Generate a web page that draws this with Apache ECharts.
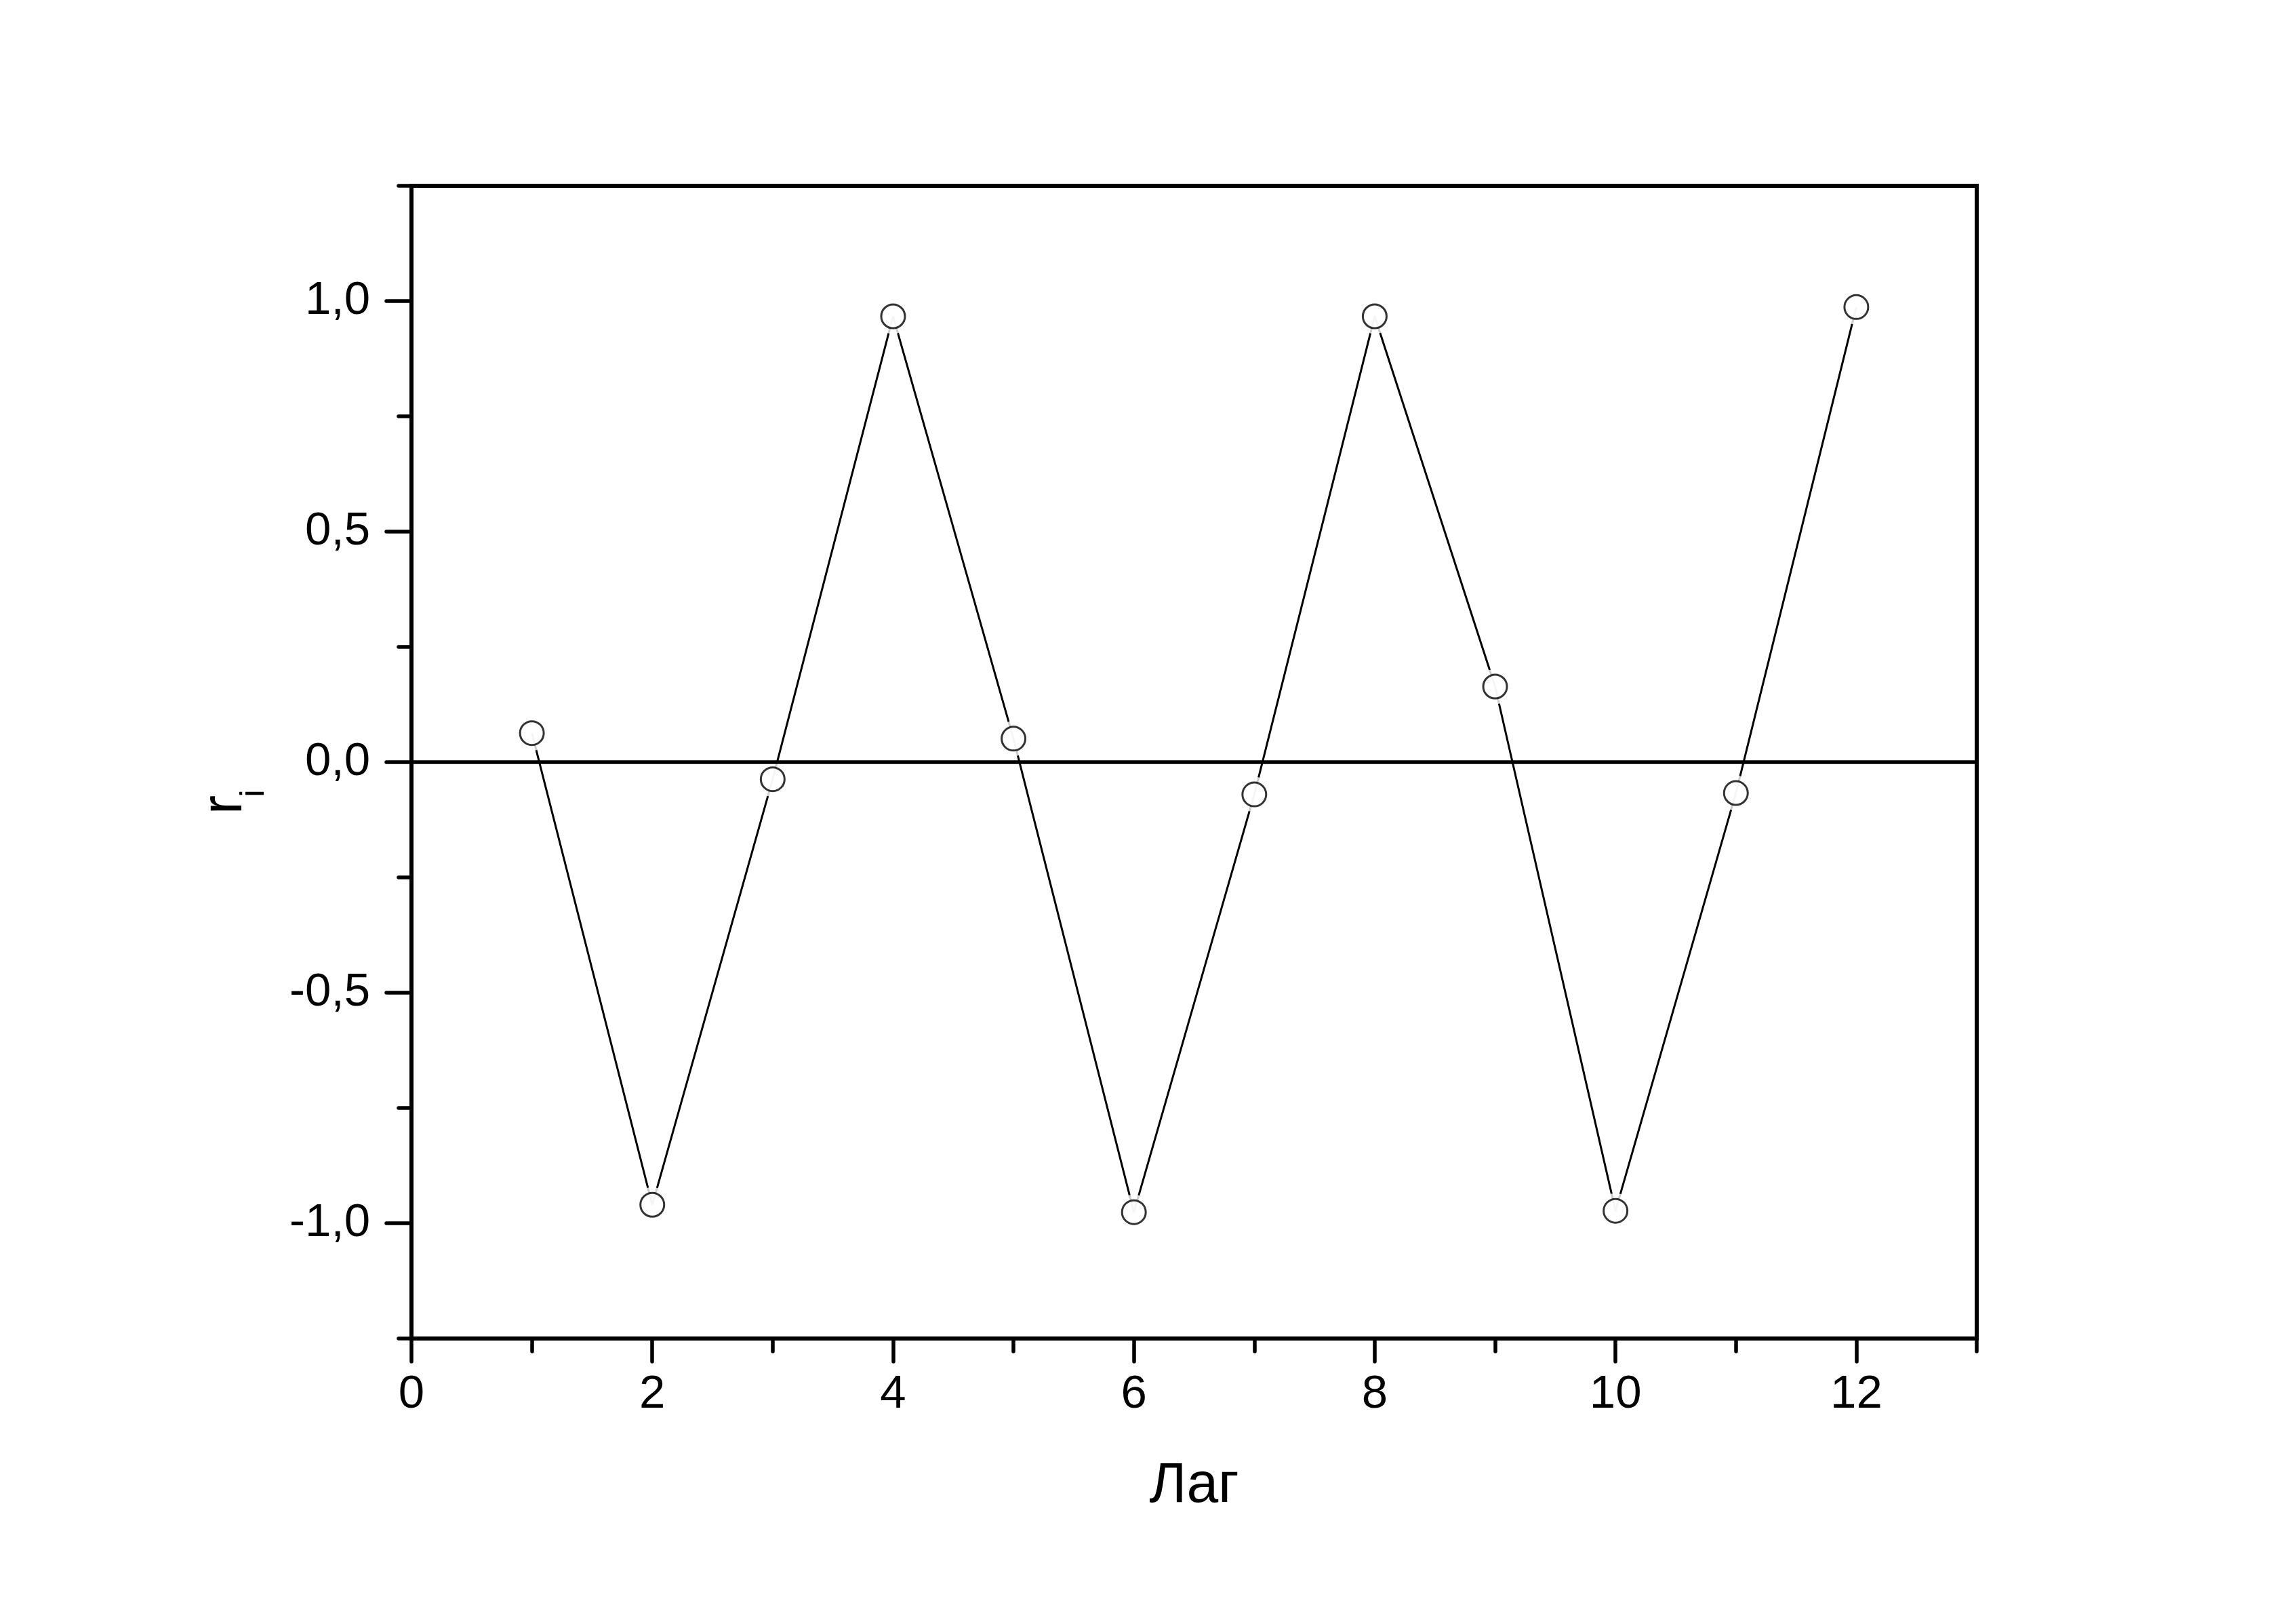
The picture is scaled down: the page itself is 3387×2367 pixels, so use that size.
<!DOCTYPE html>
<html>
<head>
<meta charset="utf-8">
<script src="https://cdn.jsdelivr.net/npm/echarts@6/dist/echarts.min.js"></script>
<style>
html,body{margin:0;padding:0;background:#fff;}
#chart{width:3387px;height:2367px;}
</style>
</head>
<body>
<div id="chart"></div>
<script>
// Data
const lags = [1, 2, 3, 4, 5, 6, 7, 8, 9, 10, 11, 12];
const ri = [0.063, -0.960, -0.037, 0.967, 0.051, -0.976, -0.070, 0.967, 0.164, -0.973, -0.067, 0.987];
const xMajorTicks = [0, 2, 4, 6, 8, 10, 12];
const xMinorTicks = [1, 3, 5, 7, 9, 11, 13];
const yMajorTicks = [-1.0, -0.5, 0.0, 0.5, 1.0];
const yMinorTicks = [-1.25, -0.75, -0.25, 0.25, 0.75, 1.25];
const xTitle = 'Лаг';
const yTitleMain = 'r';
const yTitleSub = 'i';

const points = lags.map((x, i) => [x, ri[i]]);
const FONT = 'Liberation Sans, Arial, sans-serif';

const chart = echarts.init(document.getElementById('chart'), null, {renderer: 'canvas'});
chart.setOption({
  backgroundColor: '#fff',
  animation: false,
  grid: {left: 607, right: 471, top: 274, bottom: 393, show: true, borderColor: '#000', borderWidth: 6, backgroundColor: 'transparent'},
  xAxis: [
    {
      type: 'value', min: 0, max: 13, position: 'bottom',
      axisLine: {show: true, onZero: false, lineStyle: {color: '#000', width: 6, cap: 'round'}},
      axisTick: {show: true, customValues: xMajorTicks, length: 34, lineStyle: {color: '#000', width: 5.5, cap: 'round'}},
      axisLabel: {show: true, customValues: xMajorTicks, margin: 48, color: '#000', fontSize: 69, fontFamily: FONT},
      splitLine: {show: false},
      name: xTitle, nameLocation: 'middle', nameGap: 176,
      nameTextStyle: {color: '#000', fontSize: 84, fontFamily: FONT}
    },
    {
      type: 'value', min: 0, max: 13, position: 'bottom', gridIndex: 0,
      axisLine: {show: false, onZero: false},
      axisTick: {show: true, customValues: xMinorTicks, length: 19, lineStyle: {color: '#000', width: 5.5, cap: 'round'}},
      axisLabel: {show: false},
      splitLine: {show: false}
    }
  ],
  yAxis: [
    {
      type: 'value', min: -1.25, max: 1.25, position: 'left',
      axisLine: {show: true, onZero: false, lineStyle: {color: '#000', width: 6, cap: 'round'}},
      axisTick: {show: true, customValues: yMajorTicks, length: 37, lineStyle: {color: '#000', width: 5.5, cap: 'round'}},
      axisLabel: {show: true, customValues: yMajorTicks, margin: 61, color: '#000', fontSize: 69, fontFamily: FONT,
        formatter: v => v.toFixed(1).replace('.', ',')},
      splitLine: {show: false}
    },
    {
      type: 'value', min: -1.25, max: 1.25, position: 'left',
      axisLine: {show: false, onZero: false},
      axisTick: {show: true, customValues: yMinorTicks, length: 19, lineStyle: {color: '#000', width: 5.5, cap: 'round'}},
      axisLabel: {show: false},
      splitLine: {show: false}
    }
  ],
  graphic: [
    {type: 'text', x: 333, y: 1187, rotation: Math.PI / 2, z: 100,
      style: {text: yTitleMain, font: '85px ' + FONT, fill: '#000', align: 'center', verticalAlign: 'middle'}},
    {type: 'text', x: 375, y: 1170, rotation: Math.PI / 2, z: 100,
      style: {text: yTitleSub, font: '50px ' + FONT, fill: '#000', align: 'center', verticalAlign: 'middle'}}
  ],
  series: [
    {
      type: 'line', data: points, showSymbol: false, z: 2,
      lineStyle: {color: '#000', width: 3}
    },
    {
      type: 'scatter', data: points, z: 3, symbol: 'circle', symbolSize: 52,
      itemStyle: {color: '#fff', borderWidth: 0}, emphasis: {disabled: true}
    },
    {
      type: 'line', data: [], z: 4,
      markLine: {
        silent: true, symbol: ['none', 'none'], label: {show: false},
        lineStyle: {color: '#000', width: 5.5, type: 'solid'},
        data: [{yAxis: 0}]
      }
    },
    {
      type: 'scatter', data: points, z: 5, symbol: 'circle', symbolSize: 35,
      itemStyle: {color: '#fff', borderColor: '#000', borderWidth: 3}, emphasis: {disabled: true}
    }
  ]
});
</script>
</body>
</html>
